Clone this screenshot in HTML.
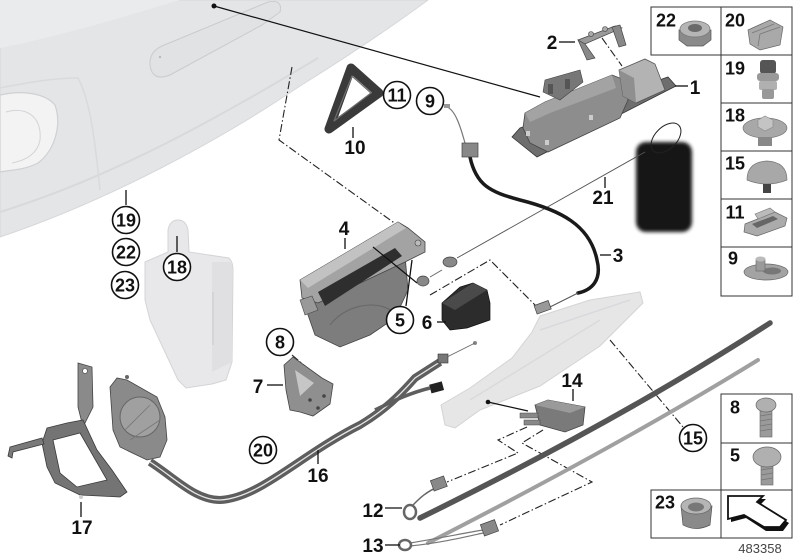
<!DOCTYPE html>
<html><head><meta charset="utf-8"><style>
html,body{margin:0;padding:0;background:#fff;}
svg{display:block;}
text{font-family:"Liberation Sans",Arial,sans-serif;font-weight:bold;fill:#111;text-anchor:middle;}
</style></head><body>
<svg width="800" height="560" viewBox="0 0 800 560" xmlns="http://www.w3.org/2000/svg">
<defs>
<filter id="bl" x="-20%" y="-20%" width="140%" height="140%"><feGaussianBlur stdDeviation="1.8"/></filter>
</defs>

<!-- car body / tailgate -->
<path d="M0,0 L428,0 C390,28 345,58 300,86 C220,140 110,200 0,237 Z" fill="#e4e5e7" stroke="#d6d7d9" stroke-width="1"/>
<path d="M0,0 L180,0 C120,18 60,36 0,48 Z" fill="#eaebed"/>
<path d="M0,212 C110,178 215,120 318,58" stroke="#d8d9db" stroke-width="2" fill="none"/>
<path d="M0,88 C30,82 55,78 78,78 C90,100 95,140 100,190" stroke="#d9dadc" stroke-width="1.5" fill="none"/>
<path d="M0,95 C22,90 45,93 55,105 C62,125 55,150 38,163 C25,170 10,170 0,172 Z" fill="#f3f3f4" stroke="#cfd0d2" stroke-width="1.2"/>
<path d="M6,112 C28,106 42,118 40,140 C38,152 28,160 12,163" stroke="#d3d4d6" stroke-width="1" fill="none"/>
<path d="M162,46 L268,2 Q283,-1 280,12 L262,25 L170,75 Q152,82 150,65 Q149,52 162,46 Z" fill="#e1e2e4" stroke="#cacbcd" stroke-width="1"/>
<circle cx="160" cy="57" r="1.2" fill="#bbb"/>
<circle cx="214" cy="6" r="2.5" fill="#111"/>
<line x1="214" y1="6" x2="540" y2="97" stroke="#111" stroke-width="1.2"/>

<!-- part 18 canister -->
<path d="M145,262 L168,252 L168,230 Q170,220 178,220 Q186,220 188,230 L189,252 L229,258 Q233,262 233,270 L232,362 L226,380 L212,384 L186,388 L178,380 L150,320 L145,300 Z" fill="#e8e8ea" stroke="#d4d4d6" stroke-width="1"/>
<path d="M212,262 L232,262 L232,362 L212,372 Z" fill="#e0e0e2"/>
<line x1="213" y1="292" x2="213" y2="345" stroke="#d0d0d2" stroke-width="1.5"/>

<!-- dash-dot leaders -->
<g stroke="#222" stroke-width="1.1" fill="none" stroke-dasharray="8 2.5 1.5 2.5">
<polyline points="292,67 279,140 418,240"/>
<polyline points="430,295 490,260 538,308"/>
<line x1="602" y1="38" x2="622" y2="66"/>
<line x1="610" y1="340" x2="683" y2="427"/>
<polyline points="527,427 498,440 518,453 447,482"/>
<polyline points="543,430 522,443 592,482 500,525"/>
<line x1="292" y1="355" x2="318" y2="377"/>
</g>

<!-- part 10 gasket -->
<path d="M351,68 L379,93 L329,129 Z" fill="none" stroke="#3a3a3a" stroke-width="9" stroke-linejoin="round"/>
<path d="M352,76 L371,93 L334,121 Z" fill="none" stroke="#6e6e6e" stroke-width="1.2" stroke-linejoin="round"/>

<!-- part 2 bracket -->
<polygon points="578,40 615,26 622,28 585,44" fill="#9a9a9a" stroke="#444" stroke-width="0.7"/>
<polygon points="578,40 585,44 595,58 587,60" fill="#888" stroke="#444" stroke-width="0.7"/>
<polygon points="612,27 620,25 626,45 619,47" fill="#888" stroke="#444" stroke-width="0.7"/>
<circle cx="591" cy="34" r="2.5" fill="#aaa" stroke="#444" stroke-width="0.6"/>
<circle cx="605" cy="29" r="2.5" fill="#aaa" stroke="#444" stroke-width="0.6"/>

<!-- part 1 handle -->
<polygon points="512,137 537,157 676,86 668,77 520,128" fill="#6e6e6e" stroke="#333" stroke-width="0.8"/>
<polygon points="523,128 525,113 545,102 612,75 625,80 628,100 620,118 548,152 530,143" fill="#8d8d8d" stroke="#444" stroke-width="0.8"/>
<polygon points="525,113 545,102 612,75 616,88 550,113 530,122" fill="#a3a3a3"/>
<polygon points="543,92 545,80 580,70 583,82 560,100" fill="#777" stroke="#444" stroke-width="0.6"/>
<rect x="548" y="84" width="5" height="10" fill="#555"/>
<rect x="565" y="79" width="5" height="10" fill="#555"/>
<polygon points="619,70 645,59 655,64 665,90 636,103 623,96" fill="#b3b3b3" stroke="#555" stroke-width="0.8"/>
<polygon points="619,70 623,96 636,103 634,78" fill="#8f8f8f"/>
<rect x="526" y="131" width="4" height="5" fill="#ccc"/>
<rect x="545" y="140" width="4" height="5" fill="#ccc"/>
<rect x="589" y="115" width="4" height="5" fill="#ccc"/>

<!-- part 21 pouch -->
<rect x="636" y="142" width="56" height="90" rx="10" fill="#141414" filter="url(#bl)"/>
<ellipse cx="666" cy="138" rx="18" ry="11" transform="rotate(-45 666 138)" fill="none" stroke="#222" stroke-width="1"/>
<line x1="645" y1="152" x2="457" y2="258" stroke="#555" stroke-width="0.9"/>

<!-- part 9 wire + cable 3 -->
<path d="M447,107 C455,110 460,125 465,143" stroke="#777" stroke-width="1.2" fill="none"/>
<rect x="444" y="104" width="6" height="4" fill="#999"/>
<path d="M470,157 C476,185 490,192 520,200 C560,210 590,225 597,260 C602,280 592,290 578,293" stroke="#1a1a1a" stroke-width="3.5" fill="none" stroke-linecap="round"/>
<rect x="462" y="143" width="16" height="14" fill="#888" stroke="#444" stroke-width="0.7"/>
<line x1="578" y1="293" x2="548" y2="308" stroke="#555" stroke-width="1"/>
<rect x="535" y="303" width="15" height="9" fill="#999" stroke="#444" stroke-width="0.7" transform="rotate(-20 542 307)"/>

<!-- part 4 lock -->
<polygon points="303,298 405,255 408,290 395,318 370,335 340,347 315,335 308,315" fill="#7d7d7d" stroke="#444" stroke-width="0.8"/>
<path d="M330,325 C345,305 375,300 390,310" stroke="#666" stroke-width="1" fill="none"/>
<polygon points="300,280 398,222 408,228 425,242 425,252 405,262 318,303 302,298" fill="#a3a3a3" stroke="#444" stroke-width="0.8"/>
<polygon points="300,280 398,222 406,228 308,288" fill="#c2c2c2"/>
<polygon points="318,292 395,248 402,256 325,306" fill="#2e2e2e"/>
<polygon points="300,300 312,296 318,310 305,315" fill="#999" stroke="#444" stroke-width="0.6"/>
<circle cx="418" cy="243" r="3" fill="#bbb" stroke="#444" stroke-width="0.6"/>
<line x1="373" y1="247" x2="417" y2="283" stroke="#111" stroke-width="1.2"/>
<ellipse cx="450" cy="262" rx="7" ry="5" fill="#888" stroke="#444" stroke-width="0.7"/>
<ellipse cx="423" cy="281" rx="6" ry="5" fill="#888" stroke="#444" stroke-width="0.7"/>
<line x1="430" y1="277" x2="442" y2="270" stroke="#666" stroke-width="1"/>

<!-- part 6 -->
<polygon points="442,303 460,287 473,283 487,290 490,303 490,320 467,328 450,330 442,320" fill="#2c2c2c" stroke="#111" stroke-width="0.7"/>
<polygon points="442,303 473,283 487,290 455,310" fill="#4a4a4a"/>

<!-- part 15 holder (translucent) -->
<polygon points="445,425 441,405 470,388 512,358 532,332 540,316 590,300 640,292 643,303 600,346 540,386 480,410 455,428" fill="#e6e6e7" stroke="#d4d4d6" stroke-width="1"/>
<path d="M470,400 L600,320 M540,330 L630,300" stroke="#dadadc" stroke-width="1.5" fill="none"/>
<circle cx="488" cy="402" r="2.3" fill="#111"/>
<line x1="488" y1="402" x2="528" y2="411" stroke="#111" stroke-width="1.2"/>
<circle cx="475" cy="343" r="2" fill="#888"/>
<line x1="475" y1="343" x2="445" y2="358" stroke="#666" stroke-width="0.9"/>

<!-- part 14 -->
<polygon points="535,405 548,400 585,407 583,425 565,432 540,425" fill="#7a7a7a" stroke="#444" stroke-width="0.8"/>
<polygon points="535,405 548,400 585,407 570,413" fill="#9a9a9a"/>
<rect x="520" y="413" width="18" height="5" fill="#888" stroke="#444" stroke-width="0.5"/>
<rect x="524" y="420" width="16" height="5" fill="#888" stroke="#444" stroke-width="0.5"/>

<!-- rods -->
<path d="M770,323 Q620,420 420,518" stroke="#555" stroke-width="5.5" fill="none" stroke-linecap="round"/>
<path d="M758,360 Q620,445 428,543" stroke="#a0a0a0" stroke-width="4" fill="none" stroke-linecap="round"/>
<path d="M440,486 C425,492 418,500 412,506" stroke="#666" stroke-width="1.5" fill="none"/>
<ellipse cx="410" cy="512" rx="6" ry="7" stroke="#666" stroke-width="2.5" fill="none"/>
<rect x="432" y="478" width="14" height="11" fill="#888" stroke="#444" stroke-width="0.7" transform="rotate(-20 439 484)"/>
<path d="M410,543 C440,538 465,533 483,530 M410,546 C440,543 465,537 483,533" stroke="#777" stroke-width="1.2" fill="none"/>
<ellipse cx="405" cy="545" rx="6" ry="5" stroke="#666" stroke-width="2.5" fill="none"/>
<rect x="482" y="522" width="15" height="12" fill="#888" stroke="#444" stroke-width="0.7" transform="rotate(-20 489 528)"/>

<!-- part 7 bracket -->
<polygon points="284,365 293,357 322,378 333,384 330,404 313,416 300,412 290,410 286,390" fill="#8f8f8f" stroke="#444" stroke-width="0.8"/>
<polygon points="295,370 314,383 300,396" fill="#c6c6c6"/>
<circle cx="310" cy="400" r="1.8" fill="#444"/>
<circle cx="324" cy="396" r="1.8" fill="#444"/>
<circle cx="318" cy="408" r="1.8" fill="#444"/>

<!-- cable 16 -->
<path d="M150,462 C175,478 195,500 220,500 C260,498 300,455 360,425 C385,410 400,395 415,378 L440,362" stroke="#5e5e5e" stroke-width="8" fill="none" stroke-linejoin="round"/>
<path d="M150,462 C175,478 195,500 220,500 C260,498 300,455 360,425 C385,410 400,395 415,378 L440,362" stroke="#e6e6e6" stroke-width="1.3" fill="none"/>
<path d="M375,410 C395,400 410,393 430,388" stroke="#5e5e5e" stroke-width="3.5" fill="none"/>
<rect x="430" y="383" width="13" height="9" fill="#222" transform="rotate(-15 436 387)"/>
<rect x="438" y="354" width="10" height="9" fill="#777" stroke="#333" stroke-width="0.6"/>

<!-- actuator -->
<polygon points="110,387 117,378 127,380 157,397 165,417 167,440 160,457 147,460 120,447 113,430" fill="#8a8a8a" stroke="#444" stroke-width="0.8"/>
<circle cx="140" cy="417" r="20" fill="#a0a0a0" stroke="#666" stroke-width="1"/>
<path d="M125,430 L150,405 M130,440 L160,420" stroke="#777" stroke-width="0.8"/>
<circle cx="127" cy="377" r="2" fill="#666"/>

<!-- bracket 17 -->
<polygon points="78,363 92,367 93,407 83,427 78,407" fill="#8a8a8a" stroke="#444" stroke-width="0.8"/>
<circle cx="85" cy="371" r="2.5" fill="#fff" stroke="#444" stroke-width="0.6"/>
<path d="M47,428 L67,423 L83,420 L97,450 L112,470 L127,492 L120,497 L80,495 L55,483 L47,467 L42,443 Z M53,440 L80,433 L107,480 L77,487 L60,473 Z" fill="#747474" fill-rule="evenodd" stroke="#3a3a3a" stroke-width="0.8"/>
<path d="M10,447 L42,438 L44,444 L13,452 L12,458 L8,456 Z" fill="#7a7a7a" stroke="#3a3a3a" stroke-width="0.8"/>
<circle cx="81" cy="497" r="2" fill="#ccc"/>

<!-- label leaders -->
<g stroke="#111" stroke-width="1.3">
<line x1="675" y1="86" x2="688" y2="86"/>
<line x1="559" y1="42" x2="575" y2="42"/>
<line x1="600" y1="255" x2="611" y2="255"/>
<line x1="345" y1="238" x2="345" y2="249"/>
<line x1="437" y1="322" x2="446" y2="322"/>
<line x1="267" y1="385" x2="283" y2="385"/>
<line x1="353" y1="127" x2="353" y2="138"/>
<line x1="385" y1="508" x2="402" y2="508"/>
<line x1="385" y1="545" x2="400" y2="545"/>
<line x1="573" y1="389" x2="573" y2="401"/>
<line x1="318" y1="450" x2="318" y2="464"/>
<line x1="81" y1="502" x2="81" y2="517"/>
<line x1="605" y1="177" x2="605" y2="188"/>
<line x1="406" y1="306" x2="412" y2="260"/>
<line x1="177" y1="236" x2="177" y2="252"/>
<line x1="126" y1="190" x2="126" y2="205"/>
</g>

<!-- plain labels -->
<g font-size="19">
<text x="695" y="94">1</text>
<text x="552" y="49">2</text>
<text x="618" y="262">3</text>
<text x="344" y="235">4</text>
<text x="427" y="329">6</text>
<text x="258" y="393">7</text>
<text x="355" y="154">10</text>
<text x="373" y="517">12</text>
<text x="373" y="552">13</text>
<text x="572" y="387">14</text>
<text x="318" y="482">16</text>
<text x="82" y="534">17</text>
<text x="603" y="204">21</text>
</g>

<!-- circled labels -->
<g stroke="#111" stroke-width="1.6" fill="#fff">
<circle cx="400" cy="320" r="13.5"/>
<circle cx="280" cy="342" r="13.5"/>
<circle cx="430" cy="101" r="13.5"/>
<circle cx="397" cy="95" r="13.5"/>
<circle cx="693" cy="438" r="13.5"/>
<circle cx="177" cy="267" r="13.5"/>
<circle cx="126" cy="220" r="13.5"/>
<circle cx="263" cy="450" r="13.5"/>
<circle cx="126" cy="252" r="13.5"/>
<circle cx="125" cy="285" r="13.5"/>
</g>
<g font-size="18">
<text x="400" y="326.5">5</text>
<text x="280" y="348.5">8</text>
<text x="430" y="107.5">9</text>
<text x="397" y="101.5">11</text>
<text x="693" y="444.5">15</text>
<text x="177" y="273.5">18</text>
<text x="126" y="226.5">19</text>
<text x="263" y="456.5">20</text>
<text x="126" y="258.5">22</text>
<text x="125" y="291.5">23</text>
</g>

<!-- right panel boxes -->
<g stroke="#333" stroke-width="1" fill="none">
<rect x="651" y="7" width="141" height="48"/>
<line x1="721" y1="7" x2="721" y2="55"/>
<rect x="721" y="55" width="71" height="241"/>
<line x1="721" y1="103" x2="792" y2="103"/>
<line x1="721" y1="151" x2="792" y2="151"/>
<line x1="721" y1="199" x2="792" y2="199"/>
<line x1="721" y1="247" x2="792" y2="247"/>
<rect x="721" y="394" width="71" height="96"/>
<line x1="721" y1="443" x2="792" y2="443"/>
<rect x="651" y="490" width="141" height="48"/>
<line x1="721" y1="490" x2="721" y2="538"/>
</g>

<!-- panel icons -->
<polygon points="679,30 679,40 687,46 703,46 711,40 711,30" fill="#8a8a8a" stroke="#555" stroke-width="0.7"/>
<ellipse cx="695" cy="29" rx="15" ry="8" fill="#b5b5b5" stroke="#777" stroke-width="0.7"/>
<ellipse cx="695" cy="28" rx="7" ry="4" fill="#6a6a6a"/>
<polygon points="748,30 770,20 783,27 780,45 760,50 750,44" fill="#a9a9a9" stroke="#666" stroke-width="0.7"/>
<path d="M752,33 L774,24 M758,46 L760,34 L780,27" stroke="#777" stroke-width="0.8" fill="none"/>
<rect x="760" y="60" width="16" height="14" rx="3" fill="#555"/>
<rect x="757" y="73" width="22" height="8" rx="3" fill="#999"/>
<rect x="759" y="81" width="18" height="9" rx="2" fill="#b0b0b0"/>
<rect x="762" y="89" width="12" height="10" rx="2" fill="#999"/>
<ellipse cx="765" cy="128" rx="22" ry="10" fill="#a8a8a8" stroke="#777" stroke-width="0.7"/>
<polygon points="758,120 765,116 773,120 773,127 765,131 758,127" fill="#c4c4c4" stroke="#888" stroke-width="0.6"/>
<rect x="758" y="137" width="14" height="9" fill="#888"/>
<path d="M747,180 Q747,162 767,161 Q787,162 787,180 Q767,188 747,180 Z" fill="#a8a8a8" stroke="#777" stroke-width="0.7"/>
<rect x="763" y="184" width="8" height="9" fill="#444"/>
<polygon points="745,224 775,212 787,218 785,226 757,236 744,232" fill="#ababab" stroke="#666" stroke-width="0.7"/>
<polygon points="752,224 773,216 778,219 757,228" fill="#666"/>
<polygon points="755,214 770,208 775,212 758,219" fill="#bbb" stroke="#777" stroke-width="0.6"/>
<ellipse cx="766" cy="272" rx="22" ry="8" fill="#a3a3a3" stroke="#666" stroke-width="0.7"/>
<ellipse cx="772" cy="271" rx="9" ry="3.5" fill="#777"/>
<rect x="756" y="259" width="9" height="12" fill="#9a9a9a" stroke="#666" stroke-width="0.6"/>
<ellipse cx="760.5" cy="259" rx="5" ry="2.5" fill="#bbb"/>
<rect x="760" y="409" width="12" height="28" fill="#9a9a9a" stroke="#666" stroke-width="0.6"/>
<path d="M760,416 L772,414 M760,421 L772,419 M760,426 L772,424 M760,431 L772,429" stroke="#777" stroke-width="0.8"/>
<ellipse cx="766" cy="405" rx="10" ry="7" fill="#b0b0b0" stroke="#666" stroke-width="0.7"/>
<rect x="761" y="463" width="12" height="22" fill="#9a9a9a" stroke="#666" stroke-width="0.6"/>
<path d="M761,470 L773,468 M761,475 L773,473 M761,480 L773,478" stroke="#777" stroke-width="0.8"/>
<ellipse cx="767" cy="457" rx="14" ry="10" fill="#b0b0b0" stroke="#666" stroke-width="0.7"/>
<path d="M681,506 L683,525 Q696,532 710,525 L712,506 Z" fill="#8a8a8a" stroke="#555" stroke-width="0.7"/>
<ellipse cx="696" cy="506" rx="15" ry="8" fill="#b5b5b5" stroke="#666" stroke-width="0.7"/>
<ellipse cx="696" cy="507" rx="8" ry="4.5" fill="#777"/>
<polygon points="731,499 766,499 760,505 789,523 783,531 766,531 746,518 731,522" fill="#111"/>
<polygon points="728,496 763,496 757,502 786,520 780,527 764,527 744,515 728,519" fill="#fff" stroke="#111" stroke-width="1.8"/>

<!-- labels in panels -->
<g font-size="18">
<text x="666" y="26.5">22</text>
<text x="735" y="26.5">20</text>
<text x="735" y="74.5">19</text>
<text x="735" y="121.5">18</text>
<text x="735" y="169.5">15</text>
<text x="735" y="218.5">11</text>
<text x="733" y="264.5">9</text>
<text x="735" y="413.5">8</text>
<text x="735" y="461.5">5</text>
<text x="665" y="508.5">23</text>
</g>
<text x="760" y="553" font-size="13" style="font-weight:normal;fill:#444">483358</text>
</svg>
</body></html>
